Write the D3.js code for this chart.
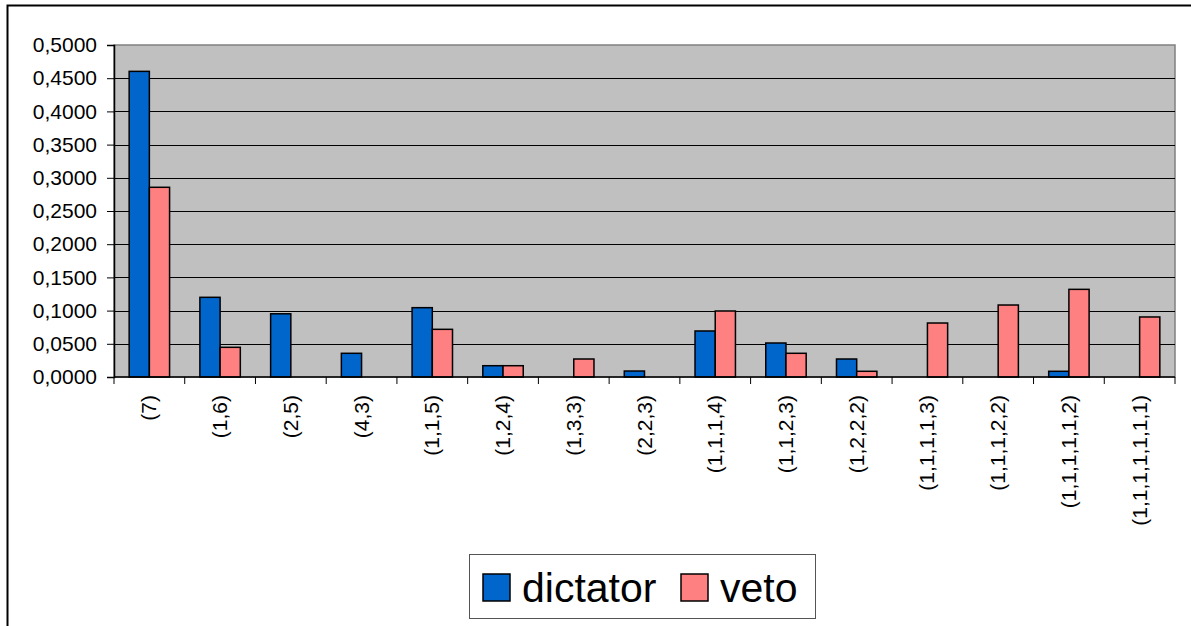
<!DOCTYPE html>
<html>
<head>
<meta charset="utf-8">
<script src="https://cdn.jsdelivr.net/npm/d3@7"></script>
<style>
  body { margin: 0; background: #fff; }
  text { font-family: "Liberation Sans", Arial, sans-serif; }
</style>
</head>
<body>
<div id="chart"></div>
<script>
// categories and series values
var categories = ["(7)", "(1,6)", "(2,5)", "(4,3)", "(1,1,5)", "(1,2,4)", "(1,3,3)", "(2,2,3)",
  "(1,1,1,4)", "(1,1,2,3)", "(1,2,2,2)", "(1,1,1,1,3)", "(1,1,1,2,2)", "(1,1,1,1,1,2)", "(1,1,1,1,1,1,1)"];
var dictator = [0.4603, 0.1200, 0.0952, 0.0357, 0.1044, 0.0170, 0, 0.0090,
  0.0693, 0.0512, 0.0271, 0, 0, 0.0086, 0];
var veto = [0.2857, 0.0447, 0, 0, 0.0718, 0.0170, 0.0271, 0,
  0.0994, 0.0357, 0.0086, 0.0813, 0.1084, 0.1320, 0.0904];
var seriesNames = ["dictator", "veto"];
var seriesColors = ["#0066cc", "#ff8080"];
var yTicks = [0, 0.05, 0.1, 0.15, 0.2, 0.25, 0.3, 0.35, 0.4, 0.45, 0.5];

var width = 1191, height = 626;
var plot = { left: 114, top: 45, right: 1175, bottom: 377 };

var svg = d3.select("#chart").append("svg")
  .attr("width", width)
  .attr("height", height);

// chart area border (only top and left visible in the picture)
svg.append("rect")
  .attr("x", 7.5).attr("y", 5.5)
  .attr("width", 1300).attr("height", 700)
  .attr("fill", "none")
  .attr("stroke", "#000")
  .attr("stroke-width", 2);

var x = d3.scaleBand()
  .domain(categories)
  .range([plot.left, plot.right]);

// two bars per group, gap width 150%
var barW = x.bandwidth() / 3.5;
var xInner = d3.scaleBand()
  .domain(seriesNames)
  .range([barW * 0.75, barW * 2.75]);

var y = d3.scaleLinear()
  .domain([0, 0.5])
  .range([plot.bottom, plot.top]);

// plot area
svg.append("rect")
  .attr("x", plot.left).attr("y", plot.top)
  .attr("width", plot.right - plot.left)
  .attr("height", plot.bottom - plot.top)
  .attr("fill", "#c0c0c0")
  .attr("stroke", "#808080")
  .attr("stroke-width", 1.5);

// gridlines
svg.append("g")
  .selectAll("line")
  .data(yTicks.slice(1, -1))
  .enter()
  .append("line")
  .attr("x1", plot.left).attr("x2", plot.right)
  .attr("y1", d => Math.round(y(d)) + 0.5)
  .attr("y2", d => Math.round(y(d)) + 0.5)
  .attr("stroke", "#000")
  .attr("stroke-width", 1);

// bars
var rows = categories.map((c, i) => ({ cat: c, vals: [dictator[i], veto[i]] }));
var groups = svg.append("g")
  .selectAll("g")
  .data(rows)
  .enter()
  .append("g")
  .attr("transform", d => "translate(" + x(d.cat) + ",0)");

groups.selectAll("rect")
  .data(d => d.vals.map((v, k) => ({ name: seriesNames[k], v: v, k: k })).filter(e => e.v > 0))
  .enter()
  .append("rect")
  .attr("x", d => xInner(d.name))
  .attr("y", d => y(d.v))
  .attr("width", xInner.bandwidth())
  .attr("height", d => y(0) - y(d.v))
  .attr("fill", d => seriesColors[d.k])
  .attr("stroke", "#000")
  .attr("stroke-width", 1.5);

// y axis
var yAxis = d3.axisLeft(y)
  .tickValues(yTicks)
  .tickSize(7)
  .tickPadding(10)
  .tickFormat(d => d3.format(".4f")(d).replace(".", ","));
var gy = svg.append("g")
  .attr("transform", "translate(" + plot.left + ",0)")
  .call(yAxis);
gy.select(".domain").attr("stroke", "#000").attr("stroke-width", 1.5);
gy.selectAll(".tick line").attr("stroke", "#000");
gy.selectAll("text")
  .attr("font-size", 21)
  .attr("fill", "#000")
  .attr("font-family", "'Liberation Sans', Arial, sans-serif");

// x axis: ticks at category boundaries
var xAxisLine = svg.append("g");
xAxisLine.append("line")
  .attr("x1", plot.left).attr("x2", plot.right)
  .attr("y1", plot.bottom).attr("y2", plot.bottom)
  .attr("stroke", "#000").attr("stroke-width", 1.5);
xAxisLine.selectAll(".xt")
  .data(categories.concat([null]))
  .enter()
  .append("line")
  .attr("class", "xt")
  .attr("x1", (d, i) => plot.left + i * x.step())
  .attr("x2", (d, i) => plot.left + i * x.step())
  .attr("y1", plot.bottom)
  .attr("y2", plot.bottom + 7)
  .attr("stroke", "#000");

// x labels, rotated
svg.append("g")
  .selectAll("text")
  .data(categories)
  .enter()
  .append("text")
  .attr("transform", d => "translate(" + (x(d) + x.bandwidth() / 2 + 7) + "," + 395 + ") rotate(-90)")
  .attr("text-anchor", "end")
  .attr("font-size", 21)
  .attr("fill", "#000")
  .text(d => d);

// legend
var legend = svg.append("g");
legend.append("rect")
  .attr("x", 469.5).attr("y", 554.5)
  .attr("width", 346).attr("height", 64)
  .attr("fill", "#fff")
  .attr("stroke", "#555")
  .attr("stroke-width", 1);
var legX = [483, 681];
var items = legend.selectAll("g")
  .data(seriesNames)
  .enter()
  .append("g")
  .attr("transform", (d, i) => "translate(" + legX[i] + ",574)");
items.append("rect")
  .attr("width", 27).attr("height", 27)
  .attr("fill", (d, i) => seriesColors[i])
  .attr("stroke", "#000")
  .attr("stroke-width", 1.5);
items.append("text")
  .attr("x", 39)
  .attr("y", 27.5)
  .attr("font-size", 41)
  .attr("fill", "#000")
  .text(d => d);
</script>
</body>
</html>
